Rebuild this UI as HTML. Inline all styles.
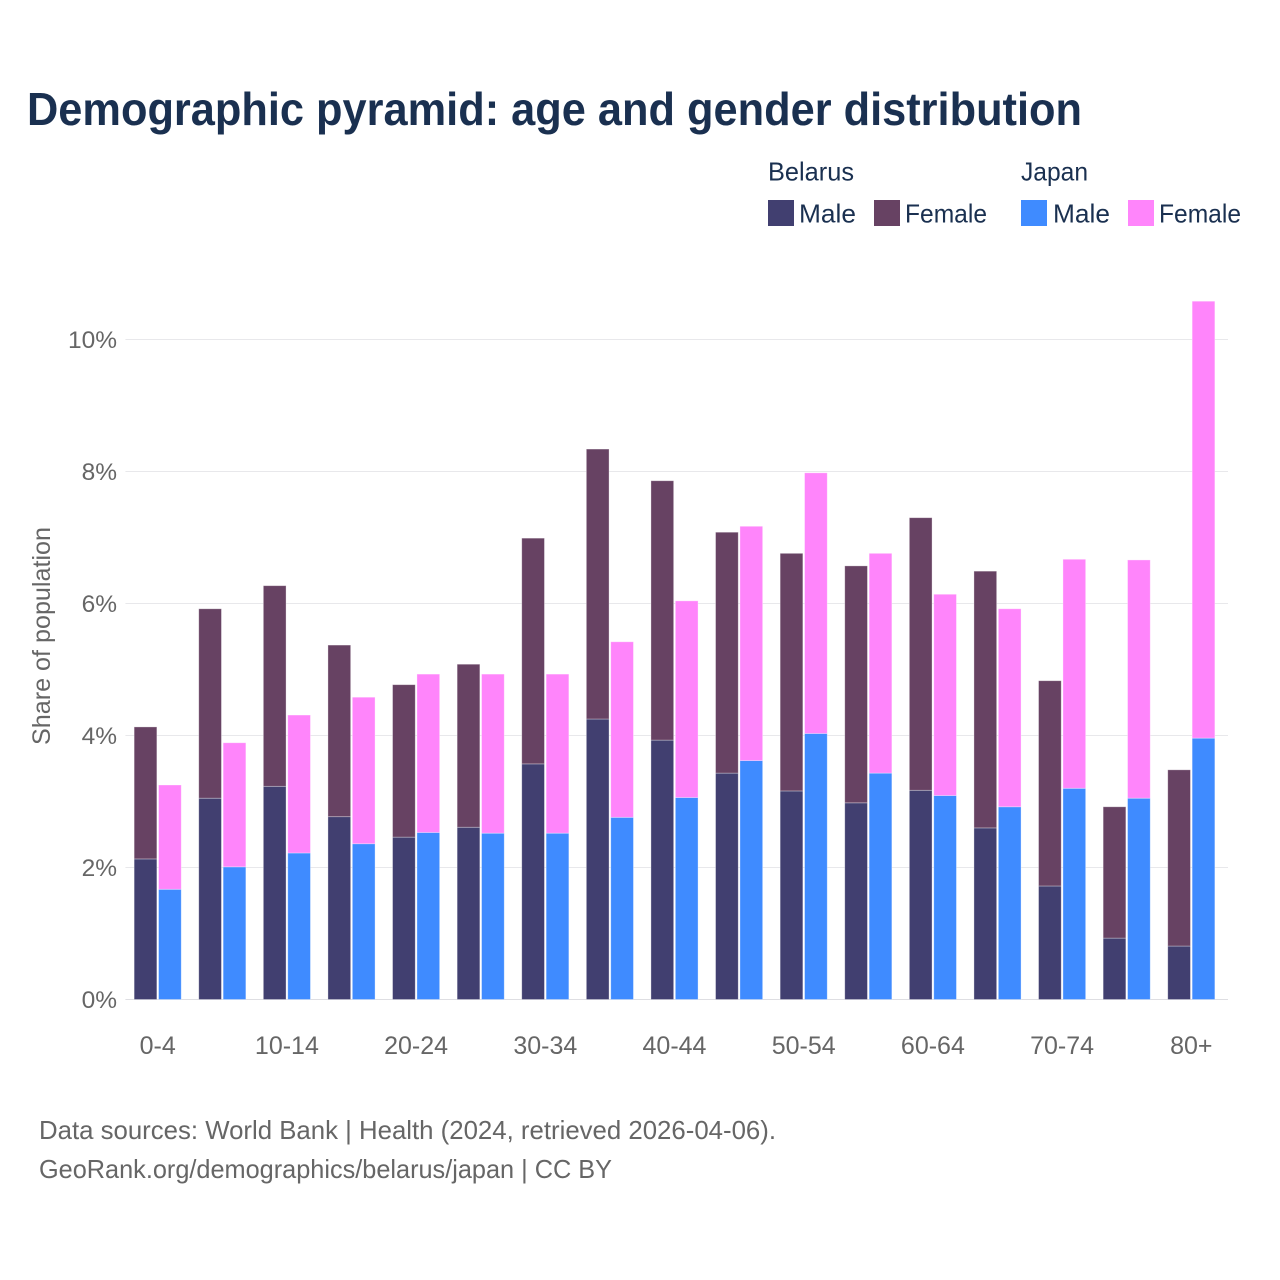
<!DOCTYPE html>
<html lang="en">
<head>
<meta charset="utf-8">
<title>Demographic pyramid: age and gender distribution</title>
<style>
html,body{margin:0;padding:0;background:#fff;}
svg{display:block;font-family:"Liberation Sans",sans-serif;}
</style>
</head>
<body>
<svg id="chart" width="1280" height="1280" viewBox="0 0 1280 1280" xmlns="http://www.w3.org/2000/svg">
  <rect x="0" y="0" width="1280" height="1280" fill="#ffffff"/>
  <text x="27" y="125" font-size="46" font-weight="700" fill="#1a3050" textLength="1055" lengthAdjust="spacingAndGlyphs">Demographic pyramid: age and gender distribution</text>

  <g font-size="26" fill="#1a3050">
    <text x="768" y="180.5" textLength="86" lengthAdjust="spacingAndGlyphs">Belarus</text>
    <text x="1021" y="180.5" textLength="67" lengthAdjust="spacingAndGlyphs">Japan</text>
    <rect x="768" y="200" width="26" height="26" fill="#413f70"/>
    <text x="799" y="222.5" textLength="57" lengthAdjust="spacingAndGlyphs">Male</text>
    <rect x="874" y="200" width="26" height="26" fill="#674263"/>
    <text x="905" y="222.5" textLength="82" lengthAdjust="spacingAndGlyphs">Female</text>
    <rect x="1021" y="200" width="26" height="26" fill="#3f8bff"/>
    <text x="1053" y="222.5" textLength="57" lengthAdjust="spacingAndGlyphs">Male</text>
    <rect x="1128" y="200" width="26" height="26" fill="#ff85fb"/>
    <text x="1159" y="222.5" textLength="82" lengthAdjust="spacingAndGlyphs">Female</text>
  </g>

  <g id="grid"></g>
  <g id="bars"></g>
  <g id="yticks"></g>
  <g id="xticks"></g>

  <text transform="translate(50,636) rotate(-90)" text-anchor="middle" font-size="25" fill="#666666" textLength="218" lengthAdjust="spacingAndGlyphs">Share of population</text>

  <text x="39" y="1139" font-size="26" fill="#666666" textLength="737" lengthAdjust="spacingAndGlyphs">Data sources: World Bank | Health (2024, retrieved 2026-04-06).</text>
  <text x="39" y="1178" font-size="26" fill="#666666" textLength="573" lengthAdjust="spacingAndGlyphs">GeoRank.org/demographics/belarus/japan | CC BY</text>
</svg>
<script>
const categories = ["0-4","5-9","10-14","15-19","20-24","25-29","30-34","35-39","40-44","45-49","50-54","55-59","60-64","65-69","70-74","75-79","80+"];
const visibleCategoryLabels = ["0-4","10-14","20-24","30-34","40-44","50-54","60-64","70-74","80+"];
const belarusMale = [2.13,3.05,3.23,2.77,2.46,2.61,3.57,4.25,3.93,3.43,3.16,2.98,3.17,2.60,1.72,0.93,0.81];
const belarusFemale = [2.00,2.87,3.04,2.60,2.31,2.47,3.42,4.09,3.93,3.65,3.60,3.59,4.13,3.89,3.11,1.99,2.67];
const japanMale = [1.67,2.01,2.22,2.36,2.53,2.52,2.52,2.76,3.06,3.62,4.03,3.43,3.09,2.92,3.20,3.05,3.96];
const japanFemale = [1.58,1.88,2.09,2.22,2.40,2.41,2.41,2.66,2.98,3.55,3.95,3.33,3.05,3.00,3.47,3.61,6.62];
const yTicks = [0,2,4,6,8,10];

const NS = "http://www.w3.org/2000/svg";
const plotLeft = 125.4, plotRight = 1228, bandStep = 64.6, barWidth = 22.7, barGap = 1.7;
function yScale(v){ return 999.5 - v * 66; }
function xGroup(i){ return plotLeft + bandStep * (i + 0.5); }

const gridLayer = document.getElementById("grid");
const barLayer = document.getElementById("bars");
const yLayer = document.getElementById("yticks");
const xLayer = document.getElementById("xticks");

yTicks.forEach(function(t){
  const line = document.createElementNS(NS, "line");
  
  
  line.setAttribute("x1", plotLeft);
  line.setAttribute("x2", plotRight);
  line.setAttribute("y1", yScale(t));
  line.setAttribute("y2", yScale(t));
  line.setAttribute("stroke", t === 0 ? "#dedee2" : "#e8e8eb");
  line.setAttribute("stroke-width", "1");
  gridLayer.appendChild(line);

  const label = document.createElementNS(NS, "text");
  
  
  label.setAttribute("x", 117);
  label.setAttribute("y", yScale(t) + 8.5);
  label.setAttribute("text-anchor", "end");
  label.setAttribute("font-size", "24.5");
  label.setAttribute("fill", "#666666");
  label.textContent = t + "%";
  yLayer.appendChild(label);
});

function addBar(x, v0, v1, color){
  const top = yScale(v1), bottom = yScale(v0);
  const r = document.createElementNS(NS, "rect");
  
  
  r.setAttribute("x", x);
  r.setAttribute("y", top);
  r.setAttribute("width", barWidth);
  r.setAttribute("height", bottom - top);
  r.setAttribute("fill", color);
  r.setAttribute("stroke", "#ffffff");
  r.setAttribute("stroke-opacity", "0.4");
  r.setAttribute("stroke-width", "0.8");
  barLayer.appendChild(r);
}

categories.forEach(function(cat, i){
  const cx = xGroup(i);
  const leftX = cx - barGap / 2 - barWidth;
  const rightX = cx + barGap / 2;
  addBar(leftX, 0, belarusMale[i], "#413f70");
  addBar(leftX, belarusMale[i], belarusMale[i] + belarusFemale[i], "#674263");
  addBar(rightX, 0, japanMale[i], "#3f8bff");
  addBar(rightX, japanMale[i], japanMale[i] + japanFemale[i], "#ff85fb");

  if (visibleCategoryLabels.indexOf(cat) !== -1) {
    const label = document.createElementNS(NS, "text");
    
    
    label.setAttribute("x", cx);
    label.setAttribute("y", 1054);
    label.setAttribute("text-anchor", "middle");
    label.setAttribute("font-size", "25");
    label.setAttribute("fill", "#666666");
    label.textContent = cat;
    xLayer.appendChild(label);
  }
});
</script>
</body>
</html>
